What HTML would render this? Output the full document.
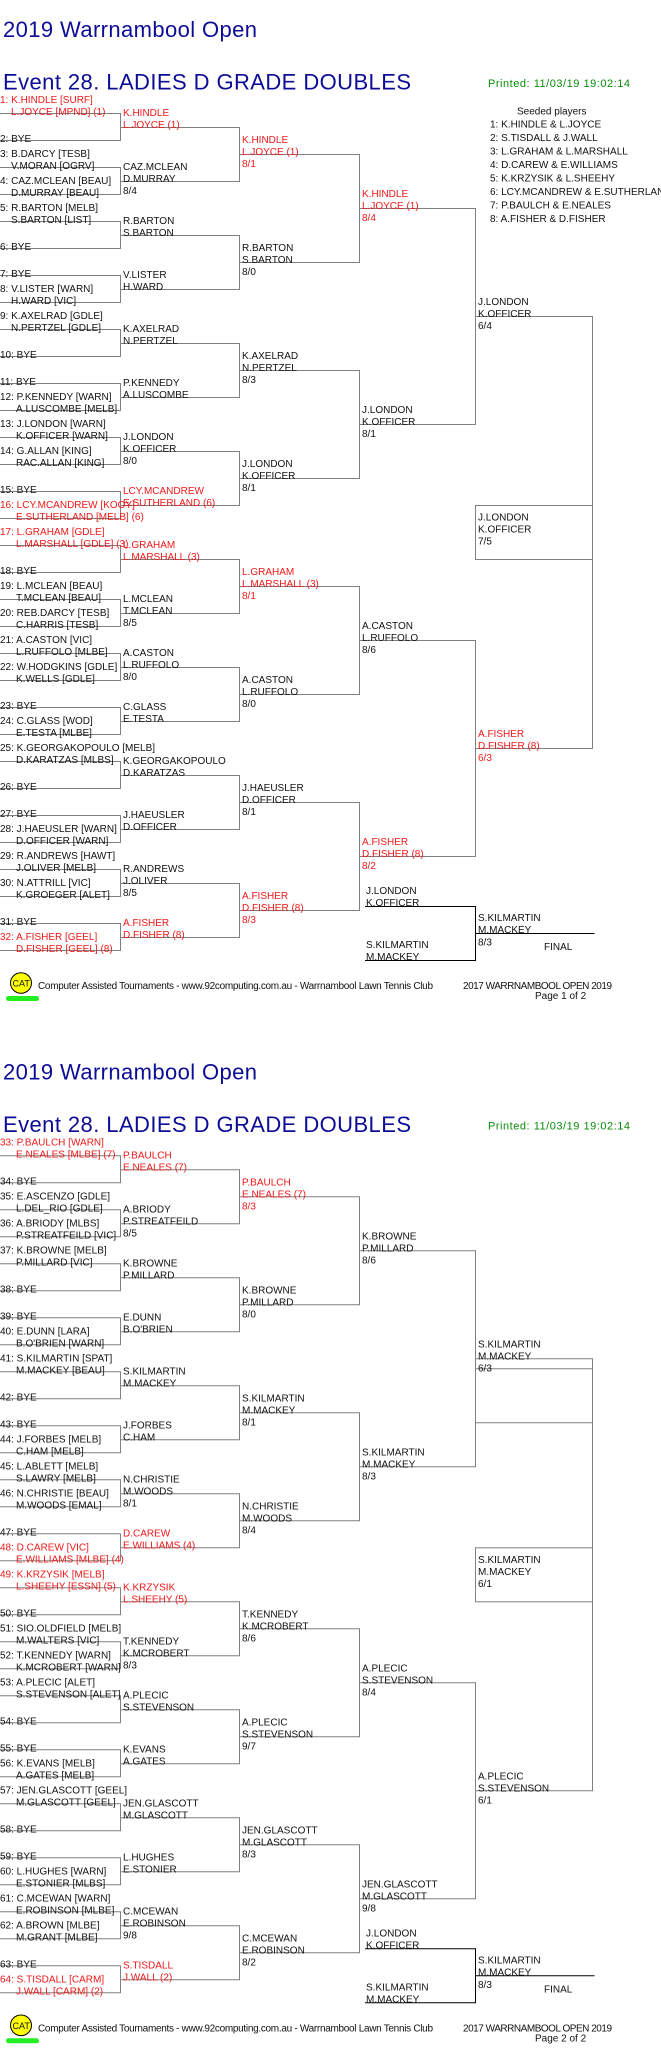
<!DOCTYPE html>
<html><head><meta charset="utf-8"><style>
html,body{margin:0;padding:0;background:#fff;}
svg{display:block;}
text{font-family:"Liberation Sans",Arial,sans-serif;font-size:10px;fill:#111;}
.r{fill:#f01818;}
.t{font-size:22px;fill:#0c0c96;}
.g{font-size:11px;fill:#0a8a0a;}
.br path,.br rect{fill:none;stroke:#808080;stroke-width:1;}
.fn path{fill:none;stroke:#000;stroke-width:1;}
</style></head><body>
<svg width="661" height="2063" viewBox="0 0 661 2063" xmlns="http://www.w3.org/2000/svg">
<defs>
<g id="br" class="br">
<path d="M0 113.5H120.5V140.5H0M0 167.5H120.5V194.5H0M0 221.5H120.5V248.5H0M0 275.5H120.5V302.5H0M0 329.5H120.5V356.5H0M0 383.5H120.5V410.5H0M0 437.5H120.5V464.5H0M0 491.5H120.5V518.5H0M0 545.5H120.5V572.5H0M0 599.5H120.5V626.5H0M0 653.5H120.5V680.5H0M0 707.5H120.5V734.5H0M0 761.5H120.5V788.5H0M0 815.5H120.5V842.5H0M0 869.5H120.5V896.5H0M0 923.5H120.5V950.5H0"/>
<path d="M120.5 127.5H239.5V181.5H120.5M120.5 235.5H239.5V289.5H120.5M120.5 343.5H239.5V397.5H120.5M120.5 451.5H239.5V505.5H120.5M120.5 559.5H239.5V613.5H120.5M120.5 667.5H239.5V721.5H120.5M120.5 775.5H239.5V829.5H120.5M120.5 883.5H239.5V937.5H120.5"/>
<path d="M239.5 154.5H359.5V262.5H239.5M239.5 370.5H359.5V478.5H239.5M239.5 586.5H359.5V694.5H239.5M239.5 802.5H359.5V910.5H239.5"/>
<path d="M359.5 208.5H475.5V424.5H359.5M359.5 640.5H475.5V856.5H359.5"/>
<path d="M475.5 316.5H592.5V748.5H475.5"/>
<rect x="475.5" y="505.5" width="117" height="54"/>
</g>
<g id="fn" class="fn">
<path d="M365 906.5H475.5V960.5H365M475.5 933.5H594.5"/>
</g>
<g id="cat">
<ellipse cx="21" cy="983" rx="10.5" ry="10.3" fill="#ffff00" stroke="#000" stroke-width="1"/>
<rect x="6" y="996" width="33" height="5" rx="2.5" fill="#22ee22"/>
</g>
</defs>

<!-- ================= PAGE 1 ================= -->
<g>
<use href="#br"/><use href="#fn"/><use href="#cat"/>
<text class="t" x="3" y="37" textLength="254">2019 Warrnambool Open</text>
<text class="t" x="3" y="89.5" textLength="408">Event 28. LADIES D GRADE DOUBLES</text>
<text class="g" x="488" y="87" textLength="142">Printed: 11/03/19 19:02:14</text>

<text x="517" y="114.5">Seeded players</text>
<text x="490" y="127.5">1: K.HINDLE &amp; L.JOYCE</text>
<text x="490" y="141">2: S.TISDALL &amp; J.WALL</text>
<text x="490" y="154.5">3: L.GRAHAM &amp; L.MARSHALL</text>
<text x="490" y="168">4: D.CAREW &amp; E.WILLIAMS</text>
<text x="490" y="181.5">5: K.KRZYSIK &amp; L.SHEEHY</text>
<text x="490" y="195">6: LCY.MCANDREW &amp; E.SUTHERLAND</text>
<text x="490" y="208.5">7: P.BAULCH &amp; E.NEALES</text>
<text x="490" y="222">8: A.FISHER &amp; D.FISHER</text>

<!-- R1 -->
<text class="r" x="0" y="103">1: K.HINDLE [SURF]</text><text class="r" x="11" y="115">L.JOYCE [MPND] (1)</text>
<text x="0" y="142">2: BYE</text>
<text x="0" y="157">3: B.DARCY [TESB]</text><text x="11" y="169">V.MORAN [OGRV]</text>
<text x="0" y="184">4: CAZ.MCLEAN [BEAU]</text><text x="11" y="196">D.MURRAY [BEAU]</text>
<text x="0" y="211">5: R.BARTON [MELB]</text><text x="11" y="223">S.BARTON [LIST]</text>
<text x="0" y="250">6: BYE</text>
<text x="0" y="277">7: BYE</text>
<text x="0" y="292">8: V.LISTER [WARN]</text><text x="11" y="304">H.WARD [VIC]</text>
<text x="0" y="319">9: K.AXELRAD [GDLE]</text><text x="11" y="331">N.PERTZEL [GDLE]</text>
<text x="0" y="358">10: BYE</text>
<text x="0" y="385">11: BYE</text>
<text x="0" y="400">12: P.KENNEDY [WARN]</text><text x="16" y="412">A.LUSCOMBE [MELB]</text>
<text x="0" y="427">13: J.LONDON [WARN]</text><text x="16" y="439">K.OFFICER [WARN]</text>
<text x="0" y="454">14: G.ALLAN [KING]</text><text x="16" y="466">RAC.ALLAN [KING]</text>
<text x="0" y="493">15: BYE</text>
<text class="r" x="0" y="508">16: LCY.MCANDREW [KOOY]</text><text class="r" x="16" y="520">E.SUTHERLAND [MELB] (6)</text>
<text class="r" x="0" y="535">17: L.GRAHAM [GDLE]</text><text class="r" x="16" y="547">L.MARSHALL [GDLE] (3)</text>
<text x="0" y="574">18: BYE</text>
<text x="0" y="589">19: L.MCLEAN [BEAU]</text><text x="16" y="601">T.MCLEAN [BEAU]</text>
<text x="0" y="616">20: REB.DARCY [TESB]</text><text x="16" y="628">C.HARRIS [TESB]</text>
<text x="0" y="643">21: A.CASTON [VIC]</text><text x="16" y="655">L.RUFFOLO [MLBE]</text>
<text x="0" y="670">22: W.HODGKINS [GDLE]</text><text x="16" y="682">K.WELLS [GDLE]</text>
<text x="0" y="709">23: BYE</text>
<text x="0" y="724">24: C.GLASS [WOD]</text><text x="16" y="736">E.TESTA [MLBE]</text>
<text x="0" y="751">25: K.GEORGAKOPOULO [MELB]</text><text x="16" y="763">D.KARATZAS [MLBS]</text>
<text x="0" y="790">26: BYE</text>
<text x="0" y="817">27: BYE</text>
<text x="0" y="832">28: J.HAEUSLER [WARN]</text><text x="16" y="844">D.OFFICER [WARN]</text>
<text x="0" y="859">29: R.ANDREWS [HAWT]</text><text x="16" y="871">J.OLIVER [MELB]</text>
<text x="0" y="886">30: N.ATTRILL [VIC]</text><text x="16" y="898">K.GROEGER [ALET]</text>
<text x="0" y="925">31: BYE</text>
<text class="r" x="0" y="940">32: A.FISHER [GEEL]</text><text class="r" x="16" y="952">D.FISHER [GEEL] (8)</text>

<!-- R2 -->
<text class="r" x="123" y="116">K.HINDLE</text><text class="r" x="123" y="128">L.JOYCE (1)</text>
<text x="123" y="170">CAZ.MCLEAN</text><text x="123" y="182">D.MURRAY</text><text x="123" y="194">8/4</text>
<text x="123" y="224">R.BARTON</text><text x="123" y="236">S.BARTON</text>
<text x="123" y="278">V.LISTER</text><text x="123" y="290">H.WARD</text>
<text x="123" y="332">K.AXELRAD</text><text x="123" y="344">N.PERTZEL</text>
<text x="123" y="386">P.KENNEDY</text><text x="123" y="398">A.LUSCOMBE</text>
<text x="123" y="440">J.LONDON</text><text x="123" y="452">K.OFFICER</text><text x="123" y="464">8/0</text>
<text class="r" x="123" y="494">LCY.MCANDREW</text><text class="r" x="123" y="506">E.SUTHERLAND (6)</text>
<text class="r" x="123" y="548">L.GRAHAM</text><text class="r" x="123" y="560">L.MARSHALL (3)</text>
<text x="123" y="602">L.MCLEAN</text><text x="123" y="614">T.MCLEAN</text><text x="123" y="626">8/5</text>
<text x="123" y="656">A.CASTON</text><text x="123" y="668">L.RUFFOLO</text><text x="123" y="680">8/0</text>
<text x="123" y="710">C.GLASS</text><text x="123" y="722">E.TESTA</text>
<text x="123" y="764">K.GEORGAKOPOULO</text><text x="123" y="776">D.KARATZAS</text>
<text x="123" y="818">J.HAEUSLER</text><text x="123" y="830">D.OFFICER</text>
<text x="123" y="872">R.ANDREWS</text><text x="123" y="884">J.OLIVER</text><text x="123" y="896">8/5</text>
<text class="r" x="123" y="926">A.FISHER</text><text class="r" x="123" y="938">D.FISHER (8)</text>

<!-- R3 -->
<text class="r" x="242" y="143">K.HINDLE</text><text class="r" x="242" y="155">L.JOYCE (1)</text><text class="r" x="242" y="167">8/1</text>
<text x="242" y="251">R.BARTON</text><text x="242" y="263">S.BARTON</text><text x="242" y="275">8/0</text>
<text x="242" y="359">K.AXELRAD</text><text x="242" y="371">N.PERTZEL</text><text x="242" y="383">8/3</text>
<text x="242" y="467">J.LONDON</text><text x="242" y="479">K.OFFICER</text><text x="242" y="491">8/1</text>
<text class="r" x="242" y="575">L.GRAHAM</text><text class="r" x="242" y="587">L.MARSHALL (3)</text><text class="r" x="242" y="599">8/1</text>
<text x="242" y="683">A.CASTON</text><text x="242" y="695">L.RUFFOLO</text><text x="242" y="707">8/0</text>
<text x="242" y="791">J.HAEUSLER</text><text x="242" y="803">D.OFFICER</text><text x="242" y="815">8/1</text>
<text class="r" x="242" y="899">A.FISHER</text><text class="r" x="242" y="911">D.FISHER (8)</text><text class="r" x="242" y="923">8/3</text>

<!-- R4 -->
<text class="r" x="362" y="197">K.HINDLE</text><text class="r" x="362" y="209">L.JOYCE (1)</text><text class="r" x="362" y="221">8/4</text>
<text x="362" y="413">J.LONDON</text><text x="362" y="425">K.OFFICER</text><text x="362" y="437">8/1</text>
<text x="362" y="629">A.CASTON</text><text x="362" y="641">L.RUFFOLO</text><text x="362" y="653">8/6</text>
<text class="r" x="362" y="845">A.FISHER</text><text class="r" x="362" y="857">D.FISHER (8)</text><text class="r" x="362" y="869">8/2</text>

<!-- R5 -->
<text x="478" y="305">J.LONDON</text><text x="478" y="317">K.OFFICER</text><text x="478" y="329">6/4</text>
<text class="r" x="478" y="737">A.FISHER</text><text class="r" x="478" y="749">D.FISHER (8)</text><text class="r" x="478" y="761">6/3</text>
<text x="478" y="520.5">J.LONDON</text><text x="478" y="532.5">K.OFFICER</text><text x="478" y="544.5">7/5</text>

<!-- final -->
<text x="366" y="894">J.LONDON</text><text x="366" y="906">K.OFFICER</text>
<text x="366" y="948">S.KILMARTIN</text><text x="366" y="960">M.MACKEY</text>
<text x="478" y="921">S.KILMARTIN</text><text x="478" y="933">M.MACKEY</text><text x="478" y="945.5">8/3</text>
<text x="544" y="950">FINAL</text>

<!-- footer -->
<text x="12.5" y="986.5" style="font-size:9px">CAT</text>
<text x="38" y="989" textLength="395">Computer Assisted Tournaments - www.92computing.com.au -  Warrnambool Lawn Tennis Club</text>
<text x="463" y="989" textLength="149">2017 WARRNAMBOOL OPEN 2019</text>
<text x="535" y="999">Page 1 of 2</text>
</g>

<!-- ================= PAGE 2 ================= -->
<g transform="translate(0,1042.3)">
<use href="#br"/><use href="#fn"/><use href="#cat"/>
<path d="M475.5 326.5H592.5M475.5 380.5H592.5" stroke="#808080" fill="none"/>
<text class="t" x="3" y="37" textLength="254">2019 Warrnambool Open</text>
<text class="t" x="3" y="89.5" textLength="408">Event 28. LADIES D GRADE DOUBLES</text>
<text class="g" x="488" y="87" textLength="142">Printed: 11/03/19 19:02:14</text>

<!-- R1 -->
<text class="r" x="0" y="103">33: P.BAULCH [WARN]</text><text class="r" x="16" y="115">E.NEALES [MLBE] (7)</text>
<text x="0" y="142">34: BYE</text>
<text x="0" y="157">35: E.ASCENZO [GDLE]</text><text x="16" y="169">L.DEL_RIO [GDLE]</text>
<text x="0" y="184">36: A.BRIODY [MLBS]</text><text x="16" y="196">P.STREATFEILD [VIC]</text>
<text x="0" y="211">37: K.BROWNE [MELB]</text><text x="16" y="223">P.MILLARD [VIC]</text>
<text x="0" y="250">38: BYE</text>
<text x="0" y="277">39: BYE</text>
<text x="0" y="292">40: E.DUNN [LARA]</text><text x="16" y="304">B.O'BRIEN [WARN]</text>
<text x="0" y="319">41: S.KILMARTIN [SPAT]</text><text x="16" y="331">M.MACKEY [BEAU]</text>
<text x="0" y="358">42: BYE</text>
<text x="0" y="385">43: BYE</text>
<text x="0" y="400">44: J.FORBES [MELB]</text><text x="16" y="412">C.HAM [MELB]</text>
<text x="0" y="427">45: L.ABLETT [MELB]</text><text x="16" y="439">S.LAWRY [MELB]</text>
<text x="0" y="454">46: N.CHRISTIE [BEAU]</text><text x="16" y="466">M.WOODS [EMAL]</text>
<text x="0" y="493">47: BYE</text>
<text class="r" x="0" y="508">48: D.CAREW [VIC]</text><text class="r" x="16" y="520">E.WILLIAMS [MLBE] (4)</text>
<text class="r" x="0" y="535">49: K.KRZYSIK [MELB]</text><text class="r" x="16" y="547">L.SHEEHY [ESSN] (5)</text>
<text x="0" y="574">50: BYE</text>
<text x="0" y="589">51: SIO.OLDFIELD [MELB]</text><text x="16" y="601">M.WALTERS [VIC]</text>
<text x="0" y="616">52: T.KENNEDY [WARN]</text><text x="16" y="628">K.MCROBERT [WARN]</text>
<text x="0" y="643">53: A.PLECIC [ALET]</text><text x="16" y="655">S.STEVENSON [ALET]</text>
<text x="0" y="682">54: BYE</text>
<text x="0" y="709">55: BYE</text>
<text x="0" y="724">56: K.EVANS [MELB]</text><text x="16" y="736">A.GATES [MELB]</text>
<text x="0" y="751">57: JEN.GLASCOTT [GEEL]</text><text x="16" y="763">M.GLASCOTT [GEEL]</text>
<text x="0" y="790">58: BYE</text>
<text x="0" y="817">59: BYE</text>
<text x="0" y="832">60: L.HUGHES [WARN]</text><text x="16" y="844">E.STONIER [MLBS]</text>
<text x="0" y="859">61: C.MCEWAN [WARN]</text><text x="16" y="871">E.ROBINSON [MLBE]</text>
<text x="0" y="886">62: A.BROWN [MLBE]</text><text x="16" y="898">M.GRANT [MLBE]</text>
<text x="0" y="925">63: BYE</text>
<text class="r" x="0" y="940">64: S.TISDALL [CARM]</text><text class="r" x="16" y="952">J.WALL [CARM] (2)</text>

<!-- R2 -->
<text class="r" x="123" y="116">P.BAULCH</text><text class="r" x="123" y="128">E.NEALES (7)</text>
<text x="123" y="170">A.BRIODY</text><text x="123" y="182">P.STREATFEILD</text><text x="123" y="194">8/5</text>
<text x="123" y="224">K.BROWNE</text><text x="123" y="236">P.MILLARD</text>
<text x="123" y="278">E.DUNN</text><text x="123" y="290">B.O'BRIEN</text>
<text x="123" y="332">S.KILMARTIN</text><text x="123" y="344">M.MACKEY</text>
<text x="123" y="386">J.FORBES</text><text x="123" y="398">C.HAM</text>
<text x="123" y="440">N.CHRISTIE</text><text x="123" y="452">M.WOODS</text><text x="123" y="464">8/1</text>
<text class="r" x="123" y="494">D.CAREW</text><text class="r" x="123" y="506">E.WILLIAMS (4)</text>
<text class="r" x="123" y="548">K.KRZYSIK</text><text class="r" x="123" y="560">L.SHEEHY (5)</text>
<text x="123" y="602">T.KENNEDY</text><text x="123" y="614">K.MCROBERT</text><text x="123" y="626">8/3</text>
<text x="123" y="656">A.PLECIC</text><text x="123" y="668">S.STEVENSON</text>
<text x="123" y="710">K.EVANS</text><text x="123" y="722">A.GATES</text>
<text x="123" y="764">JEN.GLASCOTT</text><text x="123" y="776">M.GLASCOTT</text>
<text x="123" y="818">L.HUGHES</text><text x="123" y="830">E.STONIER</text>
<text x="123" y="872">C.MCEWAN</text><text x="123" y="884">E.ROBINSON</text><text x="123" y="896">9/8</text>
<text class="r" x="123" y="926">S.TISDALL</text><text class="r" x="123" y="938">J.WALL  (2)</text>

<!-- R3 -->
<text class="r" x="242" y="143">P.BAULCH</text><text class="r" x="242" y="155">E.NEALES (7)</text><text class="r" x="242" y="167">8/3</text>
<text x="242" y="251">K.BROWNE</text><text x="242" y="263">P.MILLARD</text><text x="242" y="275">8/0</text>
<text x="242" y="359">S.KILMARTIN</text><text x="242" y="371">M.MACKEY</text><text x="242" y="383">8/1</text>
<text x="242" y="467">N.CHRISTIE</text><text x="242" y="479">M.WOODS</text><text x="242" y="491">8/4</text>
<text x="242" y="575">T.KENNEDY</text><text x="242" y="587">K.MCROBERT</text><text x="242" y="599">8/6</text>
<text x="242" y="683">A.PLECIC</text><text x="242" y="695">S.STEVENSON</text><text x="242" y="707">9/7</text>
<text x="242" y="791">JEN.GLASCOTT</text><text x="242" y="803">M.GLASCOTT</text><text x="242" y="815">8/3</text>
<text x="242" y="899">C.MCEWAN</text><text x="242" y="911">E.ROBINSON</text><text x="242" y="923">8/2</text>

<!-- R4 -->
<text x="362" y="197">K.BROWNE</text><text x="362" y="209">P.MILLARD</text><text x="362" y="221">8/6</text>
<text x="362" y="413">S.KILMARTIN</text><text x="362" y="425">M.MACKEY</text><text x="362" y="437">8/3</text>
<text x="362" y="629">A.PLECIC</text><text x="362" y="641">S.STEVENSON</text><text x="362" y="653">8/4</text>
<text x="362" y="845">JEN.GLASCOTT</text><text x="362" y="857">M.GLASCOTT</text><text x="362" y="869">9/8</text>

<!-- R5 -->
<text x="478" y="305">S.KILMARTIN</text><text x="478" y="317">M.MACKEY</text><text x="478" y="329">6/3</text>
<text x="478" y="737">A.PLECIC</text><text x="478" y="749">S.STEVENSON</text><text x="478" y="761">6/1</text>
<text x="478" y="520.5">S.KILMARTIN</text><text x="478" y="532.5">M.MACKEY</text><text x="478" y="544.5">6/1</text>

<!-- final -->
<text x="366" y="894">J.LONDON</text><text x="366" y="906">K.OFFICER</text>
<text x="366" y="948">S.KILMARTIN</text><text x="366" y="960">M.MACKEY</text>
<text x="478" y="921">S.KILMARTIN</text><text x="478" y="933">M.MACKEY</text><text x="478" y="945.5">8/3</text>
<text x="544" y="950">FINAL</text>

<!-- footer -->
<text x="12.5" y="986.5" style="font-size:9px">CAT</text>
<text x="38" y="989" textLength="395">Computer Assisted Tournaments - www.92computing.com.au -  Warrnambool Lawn Tennis Club</text>
<text x="463" y="989" textLength="149">2017 WARRNAMBOOL OPEN 2019</text>
<text x="535" y="999">Page 2 of 2</text>
</g>
</svg>
</body></html>
